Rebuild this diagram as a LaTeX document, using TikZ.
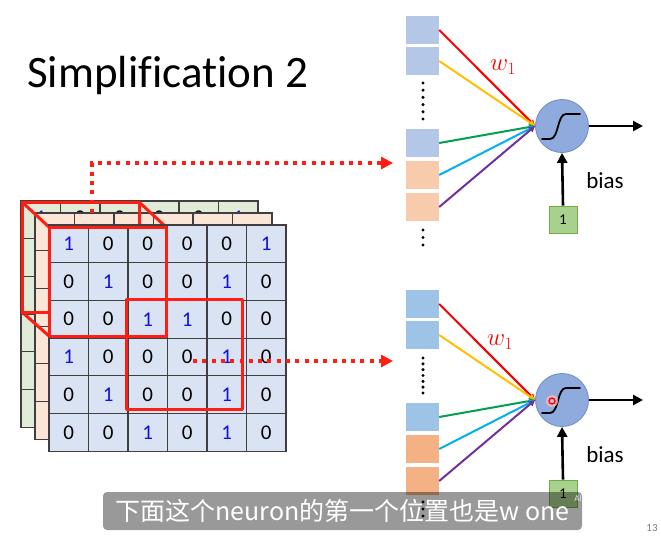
\documentclass[tikz,border=0pt]{standalone}
\usepackage{fontspec}
\setmainfont{Carlito}[Ligatures={NoCommon}]
\newfontfamily\cjk{Noto Sans CJK SC}
\usetikzlibrary{arrows.meta}
\definecolor{gridblue}{HTML}{DAE3F3}
\definecolor{gridorange}{HTML}{FBE5D6}
\definecolor{gridgreen}{HTML}{E2EBD8}
\definecolor{gridline}{HTML}{3F3F3F}
\definecolor{myred}{HTML}{FF1E14}
\definecolor{digitblue}{HTML}{1010E0}
\definecolor{sqblueA}{HTML}{B4C7E7}
\definecolor{sqorangeA}{HTML}{F8CBAD}
\definecolor{sqblueB}{HTML}{9DC3E6}
\definecolor{sqorangeB}{HTML}{F4B183}
\definecolor{neuronfill}{HTML}{8FAADC}
\definecolor{neuronline}{HTML}{6A8AC8}
\definecolor{biasfill}{HTML}{A9D18E}
\definecolor{biasline}{HTML}{70AD47}
\definecolor{wred}{HTML}{FF0000}
\definecolor{wyellow}{HTML}{FFC000}
\definecolor{wgreen}{HTML}{00A050}
\definecolor{wcyan}{HTML}{00B0F0}
\definecolor{wpurple}{HTML}{7030A0}
\tikzset{
  cell/.style={draw=gridline, line width=1.1pt, minimum width=39.5pt, minimum height=37.7pt, inner sep=0pt,
    font=\fontsize{21}{21}\selectfont},
  redbox/.style={draw=myred, line width=3pt, line join=round},
  redline/.style={myred, line width=3pt, line cap=round},
  reddot/.style={myred, line width=4pt, dash pattern=on 4pt off 5.3pt, -{Triangle[length=12pt,width=12pt]}},
  sqbox/.style={minimum width=33pt, minimum height=28pt, inner sep=0pt},
  neuron/.style={circle, minimum size=53pt, inner sep=0pt, fill=neuronfill, draw=neuronline, line width=0.8pt},
  biasbox/.style={minimum width=28pt, minimum height=27pt, inner sep=0pt, fill=biasfill, draw=biasline, line width=0.8pt,
    font=\fontsize{15}{15}\selectfont},
  wline/.style={line width=2pt, -{Triangle[length=6pt,width=6pt]}},
  blackarrow/.style={line width=2.6pt, -{Triangle[length=10pt,width=10pt]}},
  dotmark/.style={circle, fill=black, inner sep=0pt, minimum size=3.4pt},
  labtext/.style={font=\fontsize{23}{23}\selectfont},
  wlabel/.style={text=wred, font=\fontsize{27}{27}\selectfont, inner sep=0pt},
}
\begin{document}
\begin{tikzpicture}[x=1pt,y=-1pt]
\useasboundingbox (0,0) rectangle (661,536);
\fill[white] (0,0) rectangle (661,536);

% title
\node[anchor=base west, inner sep=0pt, font=\fontsize{45}{45}\selectfont] (title) at (27,87) {Simplification 2};

% ---------- back green grid ----------
\foreach \r in {0,...,5}
  \foreach \c in {0,...,5}
    \node[cell, fill=gridgreen] (g-\r-\c) at ({21+39.5*\c+19.75},{201+37.7*\r+18.85}) {};
\foreach \d [count=\c from 0] in {1,0,0,0,0,1}
  \node[font=\fontsize{21}{21}\selectfont, inner sep=0pt] (gd-\c) at ({21+39.5*\c+19.75},218)
    {\ifnum\d=1 \textcolor{digitblue}{1}\else 0\fi};

% ---------- middle orange grid ----------
\foreach \r in {0,...,5}
  \foreach \c in {0,...,5}
    \node[cell, fill=gridorange] (o-\r-\c) at ({35+39.5*\c+19.75},{213+37.7*\r+18.85}) {};

% red cube back face and edges
\coordinate (bk1) at (22,202);
\coordinate (bk2) at (139,202);
\coordinate (bk3) at (139,312);
\coordinate (bk4) at (22,312);
\coordinate (fr1) at (49,227);
\coordinate (fr2) at (166,227);
\coordinate (fr3) at (166,336);
\coordinate (fr4) at (49,336);
\draw[redbox] (bk1) -- (bk2) -- (bk3) -- (bk4) -- cycle;
\draw[redline] (bk1) -- (fr1);
\draw[redline] (bk2) -- (fr2);
\draw[redline] (bk4) -- (fr4);

% ---------- front blue grid ----------
\foreach \r/\row in {0/{1,0,0,0,0,1},1/{0,1,0,0,1,0},2/{0,0,1,1,0,0},3/{1,0,0,0,1,0},4/{0,1,0,0,1,0},5/{0,0,1,0,1,0}}
  \foreach \d [count=\c from 0] in \row
    \node[cell, fill=gridblue] (f-\r-\c) at ({49+39.5*\c+19.75},{225+37.7*\r+18.85})
      {\ifnum\d=1 \textcolor{digitblue}{1}\else 0\fi};

% front red boxes
\draw[redbox] (fr1) -- (fr2) -- (fr3) -- (fr4) -- cycle;
\coordinate (sb1) at (126,299);
\coordinate (sb2) at (242,409);
\draw[redbox] (sb1) rectangle (sb2);

% dotted arrows
\coordinate (d1s) at (92,213);
\coordinate (d1c) at (92,163);
\coordinate (d1e) at (393,163);
\draw[reddot] (d1s) -- (d1c) -- (d1e);
\coordinate (d2s) at (193,361);
\coordinate (d2e) at (393,361);
\draw[reddot] (d2s) -- (d2e);

% ---------- top neuron ----------
\node[sqbox, fill=sqblueA] (a1) at (422.5,30) {};
\node[sqbox, fill=sqblueA] (a2) at (422.5,61) {};
\node[sqbox, fill=sqblueA] (a3) at (422.5,143) {};
\node[sqbox, fill=sqorangeA] (a4) at (422.5,175) {};
\node[sqbox, fill=sqorangeA] (a5) at (422.5,207) {};
\foreach \i in {0,...,5}
  \node[dotmark] (ad\i) at (423,{83+7.2*\i}) {};
\foreach \i in {0,...,2}
  \node[dotmark] (ae\i) at (423,{230+7.5*\i}) {};
\node[neuron] (n1) at (562,126) {};
\begin{scope}[shift={(n1.center)}]
  \draw[line width=1.8pt, line cap=round] (-20,13) -- (-12,13) .. controls (-3,13) and (-5,-12) .. (4,-12) -- (18,-12);
\end{scope}
\draw[wline, wred] (a1.east) -- (n1.west);
\draw[wline, wyellow] (a2.east) -- (n1.west);
\draw[wline, wgreen] (a3.east) -- (n1.west);
\draw[wline, wcyan] (a4.east) -- (n1.west);
\draw[wline, wpurple] (a5.east) -- (n1.west);
\node[wlabel] (w1) at (503,67) {$w_1$};
\coordinate (out1) at (643,126);
\draw[blackarrow] (n1.east) -- (out1);
\node[biasbox] (b1) at (563,219.5) {1};
\draw[blackarrow] (b1.north) -- (n1.south);
\node[labtext] (bias1) at (605,181) {bias};

% ---------- bottom neuron ----------
\node[sqbox, fill=sqblueB] (c1) at (422.5,304) {};
\node[sqbox, fill=sqblueB] (c2) at (422.5,335) {};
\node[sqbox, fill=sqblueB] (c3) at (422.5,417) {};
\node[sqbox, fill=sqorangeB] (c4) at (422.5,449) {};
\node[sqbox, fill=sqorangeB] (c5) at (422.5,481) {};
\foreach \i in {0,...,6}
  \node[dotmark] (cd\i) at (423,{358+5.83*\i}) {};
\foreach \i in {0,...,2}
  \node[dotmark] (ce\i) at (423,{502+7*\i}) {};
\node[neuron] (n2) at (562,400) {};
\begin{scope}[shift={(n2.center)}]
  \draw[line width=1.8pt, line cap=round] (-20,13) -- (-12,13) .. controls (-3,13) and (-5,-12) .. (4,-12) -- (18,-12);
\end{scope}
\draw[wline, wred] (c1.east) -- (n2.west);
\draw[wline, wyellow] (c2.east) -- (n2.west);
\draw[wline, wgreen] (c3.east) -- (n2.west);
\draw[wline, wcyan] (c4.east) -- (n2.west);
\draw[wline, wpurple] (c5.east) -- (n2.west);
\node[wlabel] (w2) at (500,342) {$w_1$};
\coordinate (out2) at (643,400);
\draw[blackarrow] (n2.east) -- (out2);
\node[biasbox] (b2) at (563,493.5) {1};
\draw[blackarrow] (b2.north) -- (n2.south);
\node[labtext] (bias2) at (605,455) {bias};

% pointer mark
\node[circle, fill=red!25, fill opacity=0.7, minimum size=12pt, inner sep=0pt] (ptrglow) at (552,401) {};
\node[circle, draw=red, line width=1.3pt, minimum size=6pt, inner sep=0pt] (ptr) at (552,401) {};

% subtitle overlay
\node[fill=black, fill opacity=0.4, text opacity=1, text=white, rounded corners=4pt,
      minimum width=479pt, minimum height=38pt, inner sep=0pt,
      font=\cjk\fontsize{25}{25}\selectfont] (sub) at (342.5,511) {下面这个neuron的第一个位置也是w one};
\node[text=white!80!gray, font=\fontsize{9}{9}\selectfont, inner sep=0pt] (ai) at (578,499) {AI};
\node[text=gray, font=\fontsize{11}{11}\selectfont, inner sep=0pt] (pg) at (652,528) {13};
\end{tikzpicture}
\end{document}
